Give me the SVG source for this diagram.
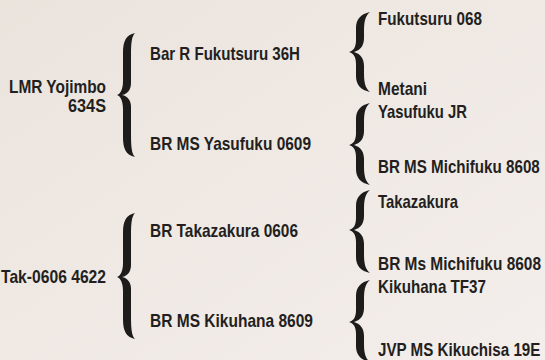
<svg xmlns="http://www.w3.org/2000/svg" width="545" height="360" viewBox="0 0 545 360">
<defs>
<linearGradient id="bg" x1="0" y1="0" x2="1" y2="1">
<stop offset="0" stop-color="#ebe4dd"/>
<stop offset="1" stop-color="#f4eeec"/>
</linearGradient>
</defs>
<style>
text{font-family:"Liberation Sans",Arial,sans-serif;font-weight:bold;font-size:18.5px;fill:#231f20}
.r{text-anchor:end}
.b{fill:#1e1b1b}
</style>
<rect width="545" height="360" fill="url(#bg)"/>
<g id="connectors">
<path class="b" d="M135,33 C126,35 123,41 123,53 L123,81 C123,90 120,94 117,95 C120,96 123,100 123,109 L123,137 C123,149 126,155 135,157 C132,154 131,148 131,135 L131,107 C131,101 128,96 122,95 C128,94 131,89 131,83 L131,55 C131,42 132,36 135,33 Z"/>
<path class="b" d="M135,213 C126,215 123,221 123,233 L123,263 C123,272 120,276 117,277 C120,278 123,282 123,291 L123,319 C123,331 126,337 135,339 C132,336 131,330 131,317 L131,289 C131,283 128,278 122,277 C128,276 131,271 131,265 L131,235 C131,222 132,216 135,213 Z"/>
<path class="b" d="M370,12 C361,14 356,19 356,28 L356,40 C356,48 353,51 349,52 C353,53 356,56 356,64 L356,76 C356,85 361,90 370,92 C366,89 364,84 364,74 L364,66 C364,59 361,54 354,52 C361,50 364,45 364,38 L364,30 C364,20 366,15 370,12 Z"/>
<path class="b" d="M370,103 C361,105 356,110 356,119 L356,133 C356,141 353,144 349,145 C353,146 356,149 356,157 L356,169 C356,178 361,183 370,185 C366,182 364,177 364,167 L364,159 C364,152 361,147 354,145 C361,143 364,138 364,131 L364,121 C364,111 366,106 370,103 Z"/>
<path class="b" d="M370,190 C361,192 356,197 356,206 L356,218 C356,226 353,229 349,230 C353,231 356,234 356,242 L356,257 C356,266 361,271 370,273 C366,270 364,265 364,255 L364,244 C364,237 361,232 354,230 C361,228 364,223 364,216 L364,208 C364,198 366,193 370,190 Z"/>
<path class="b" d="M370,280 C361,282 356,287 356,296 L356,310 C356,318 353,321 349,322 C353,323 356,326 356,334 L356,346 C356,355 361,360 370,362 C366,359 364,354 364,344 L364,336 C364,329 361,324 354,322 C361,320 364,315 364,308 L364,298 C364,288 366,283 370,280 Z"/>
</g>
<g id="n-lmr"><text class="r" x="106" y="93" textLength="97" lengthAdjust="spacingAndGlyphs">LMR Yojimbo</text><text class="r" x="106" y="112" textLength="38" lengthAdjust="spacingAndGlyphs">634S</text></g>
<g id="n-tak"><text class="r" x="106" y="283" textLength="105" lengthAdjust="spacingAndGlyphs">Tak-0606 4622</text></g>
<g id="n-bar"><text x="150" y="60" textLength="150" lengthAdjust="spacingAndGlyphs">Bar R Fukutsuru 36H</text></g>
<g id="n-yas"><text x="150" y="150" textLength="161" lengthAdjust="spacingAndGlyphs">BR MS Yasufuku 0609</text></g>
<g id="n-taka"><text x="150" y="237" textLength="148" lengthAdjust="spacingAndGlyphs">BR Takazakura 0606</text></g>
<g id="n-kiku"><text x="150" y="327" textLength="163" lengthAdjust="spacingAndGlyphs">BR MS Kikuhana 8609</text></g>
<g id="n-f068"><text x="378" y="25" textLength="104" lengthAdjust="spacingAndGlyphs">Fukutsuru 068</text></g>
<g id="n-met"><text x="378" y="95" textLength="49" lengthAdjust="spacingAndGlyphs">Metani</text></g>
<g id="n-yjr"><text x="378" y="118" textLength="89" lengthAdjust="spacingAndGlyphs">Yasufuku JR</text></g>
<g id="n-mich1"><text transform="translate(378,173) scale(0.82,1)" x="0" y="0">BR MS Michifuku 8608</text></g>
<g id="n-takz"><text x="378" y="208" textLength="80" lengthAdjust="spacingAndGlyphs">Takazakura</text></g>
<g id="n-mich2"><text transform="translate(378,270) scale(0.835,1)" x="0" y="0">BR Ms Michifuku 8608</text></g>
<g id="n-tf37"><text x="378" y="293" textLength="108" lengthAdjust="spacingAndGlyphs">Kikuhana TF37</text></g>
<g id="n-jvp"><text transform="translate(378,356) scale(0.82,1)" x="0" y="0">JVP MS Kikuchisa 19E</text></g>
</svg>
